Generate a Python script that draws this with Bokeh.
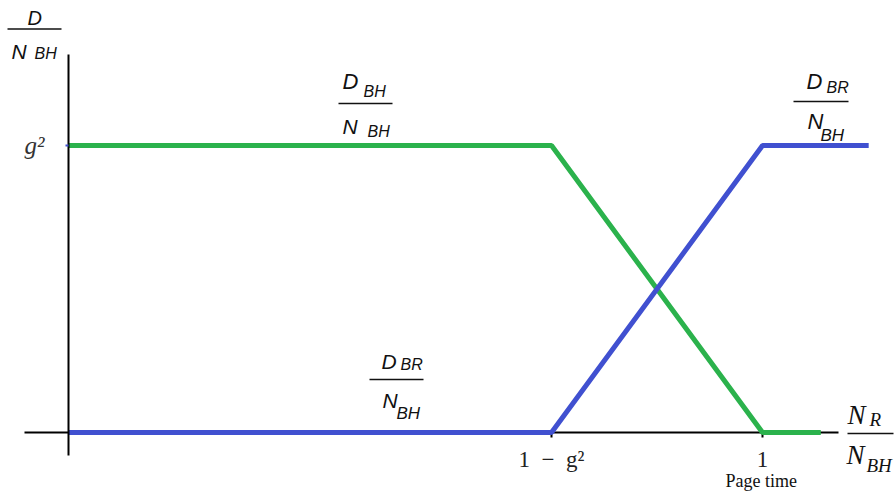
from bokeh.plotting import figure
from bokeh.models import LinearAxis, FixedTicker, Range1d
from bokeh.core.properties import value
from bokeh.embed import file_html
from bokeh.resources import INLINE

# ---------------- data ----------------
g2 = 0.304
green_x = [0.0, 0.696, 1.0, 1.084]
green_y = [0.304, 0.304, 0.0, 0.0]
blue_x = [0.0, 0.696, 1.0, 1.153]
blue_y = [0.0, 0.0, 0.304, 0.304]
x_ticks = [0.696, 1.0]
x_tick_labels = ["1\u2002−\u2002g²", "1"]
y_ticks = [0.304]
y_tick_labels = ["g²"]
x_axis_bounds = (-0.063, 1.11)
y_axis_bounds = (-0.024, 0.40)

GREEN = "#2bb24c"
BLUE = "#4050d0"

# ---------------- layout helpers ----------------
W, H = 894, 495
OX, OY = 68.0, 432.0          # canvas pixel of data origin
SX = 694.0                    # px per x unit
SY = 287.0 / 0.304            # px per y unit
BASE_K = 0.4                  # svg text baseline correction (fraction of font size)


def dx(px):
    return (px - OX) / SX


def dy(py):
    return (OY - py) / SY


p = figure(width=W, height=H, output_backend="svg", toolbar_location=None,
           x_range=Range1d(dx(0), dx(W)), y_range=Range1d(dy(H), dy(0)),
           x_axis_type=None, y_axis_type=None, min_border=0,
           outline_line_color=None, background_fill_color="white")

# ---------------- axes ----------------
xa = LinearAxis(fixed_location=0.0, bounds=x_axis_bounds,
                ticker=FixedTicker(ticks=x_ticks),
                major_label_overrides={t: l for t, l in zip(x_ticks, x_tick_labels)},
                axis_line_width=2, axis_line_color="black",
                major_tick_out=5, major_tick_in=0, major_tick_line_width=2,
                minor_tick_line_color=None,
                major_label_text_font="Liberation Serif",
                major_label_text_font_size="23px",
                major_label_text_color="#222222",
                major_label_standoff=9)
xa.level = "underlay"
p.add_layout(xa, "below")

ya = LinearAxis(fixed_location=0.0, bounds=y_axis_bounds,
                ticker=FixedTicker(ticks=y_ticks),
                major_label_overrides={t: l for t, l in zip(y_ticks, y_tick_labels)},
                axis_line_width=2, axis_line_color="black",
                major_tick_out=3, major_tick_in=0, major_tick_line_width=2,
                major_tick_line_color=BLUE,
                minor_tick_line_color=None,
                major_label_text_font="Liberation Serif",
                major_label_text_font_style="italic",
                major_label_text_font_size="25px",
                major_label_text_color="#333333",
                major_label_standoff=21)
p.add_layout(ya, "left")

# ---------------- curves ----------------
p.line(green_x, green_y, line_width=5, line_color=GREEN)
p.line(blue_x, blue_y, line_width=5, line_color=BLUE)

# ---------------- fraction labels ----------------
SANS = "Liberation Sans"
SERIF = "Liberation Serif"
# (text, left px, baseline px, size px, font, style)
texts = [
    ("D", 27, 25, 20, SANS, "italic"),
    ("N", 11, 59, 21, SANS, "italic"),
    ("BH", 34, 59, 16, SANS, "italic"),

    ("D", 342, 90, 22, SANS, "italic"),
    ("BH", 363, 97, 16, SANS, "italic"),
    ("N", 342, 134, 21, SANS, "italic"),
    ("BH", 367, 137, 16, SANS, "italic"),

    ("D", 381, 369, 21, SANS, "italic"),
    ("BR", 400, 370, 16, SANS, "italic"),
    ("N", 382, 408, 21, SANS, "italic"),
    ("BH", 396, 420, 17, SANS, "italic"),

    ("D", 806, 90, 22, SANS, "italic"),
    ("BR", 826, 93, 16, SANS, "italic"),
    ("N", 807, 130, 22, SANS, "italic"),
    ("BH", 820, 142, 17, SANS, "italic"),

    ("N", 847, 425, 27, SERIF, "italic"),
    ("R", 869, 427, 19, SERIF, "italic"),
    ("N", 846, 465, 27, SERIF, "italic"),
    ("BH", 866, 473, 19, SERIF, "italic"),

    ("Page time", 725, 488, 18, SERIF, "normal"),
]
for t, lx, by, sz, fam, sty in texts:
    p.text(x=[dx(lx)], y=[dy(by - BASE_K * sz)], text=[t], text_align="left",
           text_baseline="alphabetic", text_font=value(fam),
           text_font_style=sty, text_font_size=value(f"{sz}px"),
           text_color="#111111")

# fraction bars (x0, x1, y) in canvas px
bars = [(7, 61, 28.5), (338, 392, 103), (369, 423, 379), (793, 848, 101), (847, 893, 433)]
p.segment(x0=[dx(b[0]) for b in bars], y0=[dy(b[2]) for b in bars],
          x1=[dx(b[1]) for b in bars], y1=[dy(b[2]) for b in bars],
          line_width=1.6, line_color="#111111")

open("out.html", "w").write(file_html(p, INLINE))
